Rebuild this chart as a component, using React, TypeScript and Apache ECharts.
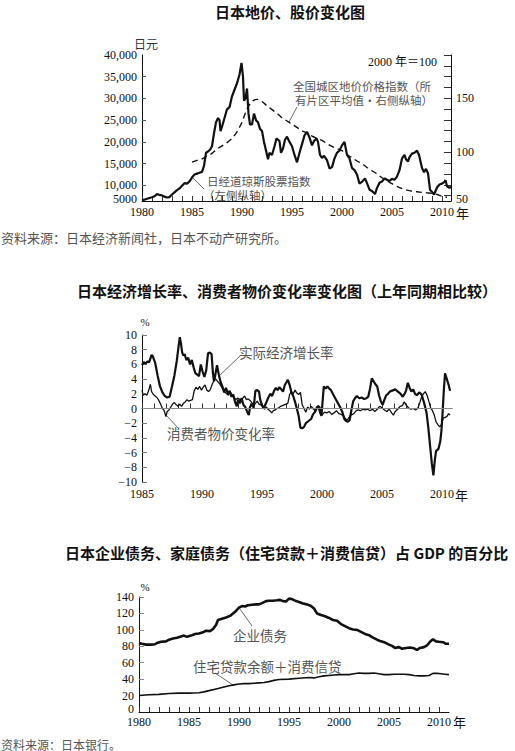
import React, { useEffect, useRef } from 'react';
import * as echarts from 'echarts';

// ---------- Chart 1: Nikkei (left axis, yen) and land price index (right axis, 2000 = 100)
const nikkei: [number, number][] = [
  [1980.0, 6600], [1980.25, 6700], [1980.5, 6900], [1980.75, 7100], [1981.0, 7250], [1981.25, 7500],
  [1981.5, 8000], [1981.75, 7800], [1982.0, 7700], [1982.25, 7400], [1982.5, 7200], [1982.75, 7300],
  [1983.0, 7900], [1983.25, 8400], [1983.5, 8900], [1983.75, 9300], [1984.0, 9900], [1984.25, 10500],
  [1984.5, 10400], [1984.75, 10900], [1985.0, 11800], [1985.25, 12500], [1985.5, 12700], [1985.75, 12900],
  [1986.0, 13100], [1986.2, 14500], [1986.4, 17500], [1986.6, 17800], [1986.8, 18200], [1987.0, 19000],
  [1987.2, 22000], [1987.4, 24500], [1987.6, 25500], [1987.75, 25000], [1987.85, 22500], [1988.0, 23500],
  [1988.25, 25500], [1988.5, 27500], [1988.75, 28000], [1989.0, 30500], [1989.25, 32000], [1989.5, 33500],
  [1989.75, 35500], [1989.95, 38200], [1990.1, 35000], [1990.2, 29500], [1990.35, 30000], [1990.5, 32300],
  [1990.65, 26500], [1990.8, 24000], [1991.0, 24000], [1991.2, 26500], [1991.4, 25000], [1991.6, 24500],
  [1991.8, 23000], [1992.0, 22500], [1992.2, 20000], [1992.4, 18000], [1992.6, 16000], [1992.75, 17500],
  [1993.0, 17000], [1993.25, 19000], [1993.45, 20800], [1993.6, 20500], [1993.75, 20200], [1993.9, 17500],
  [1994.1, 18500], [1994.3, 20500], [1994.5, 21200], [1994.75, 20000], [1995.0, 19000], [1995.25, 17000],
  [1995.5, 15300], [1995.75, 17500], [1996.0, 19500], [1996.25, 21500], [1996.5, 22300], [1996.75, 21000],
  [1997.0, 19200], [1997.2, 20200], [1997.45, 20800], [1997.6, 20000], [1997.8, 17000], [1998.0, 16300],
  [1998.2, 16800], [1998.5, 15800], [1998.75, 13900], [1999.0, 14200], [1999.25, 16200], [1999.5, 17500],
  [1999.75, 18000], [2000.0, 19200], [2000.25, 20000], [2000.5, 17000], [2000.75, 16200], [2001.0, 14000],
  [2001.25, 13500], [2001.5, 12500], [2001.75, 10400], [2002.0, 10800], [2002.3, 11600], [2002.5, 10500],
  [2002.75, 9000], [2003.0, 8700], [2003.3, 8000], [2003.5, 9400], [2003.75, 10600], [2004.0, 10900],
  [2004.25, 11600], [2004.5, 11300], [2004.75, 11000], [2005.0, 11500], [2005.25, 11300], [2005.5, 12000],
  [2005.75, 13500], [2006.0, 16200], [2006.25, 17000], [2006.4, 16000], [2006.6, 15500], [2006.75, 16500],
  [2007.0, 17300], [2007.25, 17500], [2007.5, 18000], [2007.7, 17000], [2007.85, 15500], [2008.0, 14000],
  [2008.2, 13000], [2008.4, 13800], [2008.6, 12800], [2008.8, 9000], [2009.0, 8500], [2009.2, 7900],
  [2009.5, 9500], [2009.75, 10200], [2010.0, 10400], [2010.25, 10800], [2010.35, 11200], [2010.5, 9800],
  [2010.75, 9400], [2010.9, 9700],
];

const landIndex: [number, number][] = [
  [1985.0, 91], [1985.5, 92.5], [1986.0, 94], [1986.5, 96.5], [1987.0, 99], [1987.5, 103], [1988.0, 106],
  [1988.5, 109], [1989.0, 113], [1989.5, 119], [1990.0, 128], [1990.5, 140], [1991.0, 147], [1991.5, 149],
  [1992.0, 147], [1992.5, 143], [1993.0, 139.5], [1993.5, 136], [1994.0, 132], [1994.5, 129], [1995.0, 126],
  [1995.5, 123], [1996.0, 120], [1996.5, 118], [1997.0, 115], [1997.5, 113], [1998.0, 111], [1998.5, 108],
  [1999.0, 105.5], [1999.5, 103.5], [2000.0, 101.5], [2000.5, 98], [2001.0, 95], [2001.5, 92], [2002.0, 89.5],
  [2002.5, 86], [2003.0, 83], [2003.5, 80], [2004.0, 76.5], [2004.5, 73.5], [2005.0, 71], [2005.5, 68.5],
  [2006.0, 66.5], [2006.5, 65], [2007.0, 64], [2007.5, 63.5], [2008.0, 63], [2008.5, 62.5], [2009.0, 62],
  [2009.5, 61], [2010.0, 59.5], [2010.5, 58.5],
];

const c1YearLabels = [1980, 1985, 1990, 1995, 2000, 2005, 2010];
const c1LeftLabels = [6800, 10000, 15000, 20000, 25000, 30000, 35000, 40000];
const c1LeftTicks = [10000, 15000, 20000, 25000, 30000, 35000];
const c1RightTicks = [60, 70, 80, 90, 100, 110, 120, 130, 140, 150, 160, 170, 180, 190];
const c1RightLabels = [57, 100, 150];

// ---------- Chart 2: real GDP growth and CPI change (%, y/y)
const gdpGrowth: [number, number][] = [
  [1985.0, 5.9], [1985.15, 6.3], [1985.3, 6.1], [1985.45, 6.4], [1985.6, 6.3], [1985.8, 7.3], [1985.9, 7.1],
  [1986.1, 6.2], [1986.3, 4.5], [1986.5, 3.0], [1986.7, 2.2], [1986.9, 1.7], [1987.1, 1.5], [1987.3, 1.6],
  [1987.5, 3.0], [1987.7, 4.5], [1987.9, 6.5], [1988.05, 8.5], [1988.15, 9.7], [1988.25, 8.8], [1988.35, 7.6],
  [1988.45, 7.2], [1988.55, 7.4], [1988.7, 6.6], [1988.85, 6.9], [1989.0, 6.0], [1989.15, 6.6], [1989.3, 5.6],
  [1989.45, 4.8], [1989.6, 4.6], [1989.75, 4.4], [1989.9, 6.0], [1990.05, 5.0], [1990.2, 4.3], [1990.35, 5.2],
  [1990.5, 7.5], [1990.65, 7.6], [1990.8, 7.4], [1990.9, 5.0], [1991.0, 3.7], [1991.1, 4.5], [1991.25, 5.9],
  [1991.4, 4.6], [1991.55, 3.6], [1991.7, 3.0], [1991.85, 2.2], [1992.0, 2.8], [1992.15, 2.0], [1992.3, 2.4],
  [1992.45, 1.6], [1992.6, 1.9], [1992.75, 0.9], [1992.9, 0.3], [1993.0, 1.2], [1993.15, 0.7], [1993.3, 1.4],
  [1993.45, 0.5], [1993.6, 0.2], [1993.75, -0.4], [1993.9, -0.9], [1994.0, 0.2], [1994.15, 0.6], [1994.3, 0.1],
  [1994.45, 2.4], [1994.6, 2.5], [1994.75, 2.3], [1994.85, 1.2], [1995.0, 0.4], [1995.15, 0.1], [1995.3, 0.6],
  [1995.5, 1.4], [1995.7, 2.0], [1995.85, 1.7], [1996.0, 2.4], [1996.15, 2.8], [1996.3, 2.5], [1996.45, 2.9],
  [1996.6, 2.6], [1996.75, 2.3], [1996.9, 3.2], [1997.05, 3.6], [1997.15, 3.9], [1997.3, 3.2], [1997.45, 2.2],
  [1997.6, 1.7], [1997.75, 0.9], [1997.9, 0.0], [1998.05, -1.0], [1998.2, -2.6], [1998.35, -2.7], [1998.5, -2.5],
  [1998.65, -2.0], [1998.8, -1.8], [1998.95, -1.6], [1999.1, -1.4], [1999.25, -0.8], [1999.4, -0.5],
  [1999.55, 0.0], [1999.7, 0.3], [1999.85, -0.6], [1999.95, -1.0], [2000.05, 1.0], [2000.15, 3.0],
  [2000.3, 2.7], [2000.45, 3.0], [2000.6, 2.7], [2000.75, 2.5], [2000.9, 2.0], [2001.1, 1.4], [2001.3, 0.8],
  [2001.5, 0.2], [2001.7, -0.5], [2001.85, -1.4], [2002.0, -1.7], [2002.15, -1.8], [2002.3, -1.6],
  [2002.45, -0.2], [2002.6, 1.0], [2002.75, 1.4], [2002.9, 1.7], [2003.1, 1.4], [2003.3, 1.5], [2003.5, 1.3],
  [2003.7, 1.4], [2003.85, 1.6], [2004.0, 2.7], [2004.15, 4.1], [2004.3, 3.7], [2004.45, 3.3], [2004.6, 3.0],
  [2004.75, 1.8], [2004.9, 1.0], [2005.05, 0.5], [2005.2, 1.2], [2005.35, 1.8], [2005.5, 2.0], [2005.65, 2.3],
  [2005.8, 2.4], [2005.95, 2.5], [2006.1, 2.6], [2006.25, 2.4], [2006.4, 2.2], [2006.55, 2.0], [2006.7, 1.6],
  [2006.85, 1.9], [2007.0, 2.4], [2007.15, 3.5], [2007.3, 2.8], [2007.45, 2.3], [2007.6, 2.6], [2007.75, 2.0],
  [2007.9, 1.8], [2008.1, 2.2], [2008.3, 1.9], [2008.5, 0.8], [2008.7, -0.5], [2008.85, -2.5], [2009.0, -5.0],
  [2009.15, -7.5], [2009.28, -9.1], [2009.4, -7.0], [2009.5, -5.8], [2009.7, -5.5], [2009.85, -4.5],
  [2009.95, -3.0], [2010.05, -0.5], [2010.15, 2.5], [2010.25, 4.8], [2010.4, 4.0], [2010.55, 3.2],
  [2010.67, 2.4],
];

const cpiChange: [number, number][] = [
  [1985.0, 2.5], [1985.1, 1.8], [1985.25, 2.0], [1985.4, 1.8], [1985.55, 2.4], [1985.7, 3.3], [1985.8, 2.3],
  [1985.95, 1.9], [1986.1, 1.7], [1986.25, 1.5], [1986.4, 1.1], [1986.55, 0.6], [1986.7, 0.0], [1986.85, -0.3],
  [1987.0, -1.1], [1987.1, -0.4], [1987.25, -0.2], [1987.4, 0.2], [1987.55, 0.6], [1987.7, 0.8], [1987.85, 0.5],
  [1988.0, 0.3], [1988.15, 0.6], [1988.3, 0.3], [1988.45, 0.7], [1988.6, 0.9], [1988.75, 1.2], [1988.9, 1.0],
  [1989.05, 1.1], [1989.2, 1.2], [1989.35, 2.4], [1989.5, 2.9], [1989.65, 2.6], [1989.8, 3.0], [1989.95, 2.5],
  [1990.1, 2.9], [1990.25, 3.2], [1990.4, 2.5], [1990.55, 2.3], [1990.7, 2.6], [1990.85, 3.3], [1991.0, 3.8],
  [1991.15, 4.0], [1991.3, 3.7], [1991.45, 3.4], [1991.6, 3.0], [1991.75, 2.6], [1991.9, 2.2], [1992.05, 2.0],
  [1992.2, 1.8], [1992.35, 2.3], [1992.5, 1.8], [1992.65, 1.6], [1992.8, 1.2], [1992.95, 1.4], [1993.1, 1.3],
  [1993.25, 1.0], [1993.4, 1.4], [1993.55, 1.7], [1993.7, 1.2], [1993.85, 1.3], [1994.0, 1.1], [1994.15, 0.8],
  [1994.3, 0.4], [1994.45, 0.7], [1994.6, 1.0], [1994.75, 0.6], [1994.9, 0.5], [1995.05, 0.3], [1995.2, -0.1],
  [1995.35, 0.2], [1995.5, -0.1], [1995.65, -0.3], [1995.8, -0.6], [1995.95, -0.3], [1996.1, -0.2],
  [1996.25, 0.0], [1996.4, 0.1], [1996.55, 0.3], [1996.7, 0.4], [1996.85, 0.5], [1997.0, 0.6], [1997.15, 0.7],
  [1997.3, 1.9], [1997.45, 2.3], [1997.6, 2.0], [1997.75, 2.5], [1997.9, 2.1], [1998.05, 1.9], [1998.2, 2.2],
  [1998.35, 0.5], [1998.5, 0.0], [1998.65, -0.5], [1998.8, 0.2], [1998.95, -0.1], [1999.1, 0.3],
  [1999.25, 0.0], [1999.4, -0.3], [1999.55, 0.2], [1999.7, 0.4], [1999.85, 0.1], [2000.0, -0.9],
  [2000.2, -0.5], [2000.4, -0.6], [2000.6, -0.4], [2000.8, -0.8], [2001.0, -0.6], [2001.2, -0.3],
  [2001.4, -0.7], [2001.6, -0.8], [2001.8, -1.0], [2001.95, -1.4], [2002.1, -1.6], [2002.25, -1.2],
  [2002.4, -0.9], [2002.55, -0.8], [2002.7, -0.6], [2002.85, -0.3], [2003.0, -0.2], [2003.2, -0.3],
  [2003.4, -0.1], [2003.6, -0.2], [2003.8, -0.1], [2004.0, -0.3], [2004.2, -0.1], [2004.4, -0.4],
  [2004.6, -0.1], [2004.8, 0.3], [2005.0, 0.1], [2005.2, -0.2], [2005.4, -0.4], [2005.6, -0.1],
  [2005.8, -0.6], [2005.95, -0.9], [2006.1, -0.4], [2006.3, -0.1], [2006.5, 0.3], [2006.7, 0.4],
  [2006.85, 0.9], [2007.0, 0.5], [2007.2, 0.1], [2007.4, -0.1], [2007.6, 0.0], [2007.8, -0.2], [2008.0, 0.1],
  [2008.15, 0.8], [2008.3, 1.6], [2008.45, 2.0], [2008.6, 2.3], [2008.75, 1.8], [2008.9, 1.0], [2009.05, 0.1],
  [2009.2, -0.3], [2009.35, -0.9], [2009.5, -1.8], [2009.65, -2.2], [2009.8, -2.5], [2009.95, -2.2],
  [2010.1, -1.3], [2010.25, -1.2], [2010.4, -1.1], [2010.55, -0.7], [2010.67, -0.9],
];

const c2YearLabels = [1985, 1990, 1995, 2000, 2005, 2010];
const c2ValueLabels = [-10, -8, -6, -4, -2, 0, 2, 4, 6, 8, 10];

// ---------- Chart 3: corporate debt and household debt, % of GDP
const corporateDebt: [number, number][] = [
  [1980.0, 84], [1980.3, 83], [1980.7, 82], [1981.2, 82], [1981.6, 82.5], [1981.8, 84], [1982.2, 85.5],
  [1982.7, 86], [1983.0, 88], [1983.4, 89.5], [1983.8, 90.5], [1984.2, 92], [1984.5, 93], [1984.8, 91.5],
  [1985.2, 93], [1985.6, 95], [1986.0, 95.5], [1986.4, 97], [1986.7, 99], [1987.1, 98.5], [1987.4, 101],
  [1987.7, 106], [1987.9, 112], [1988.3, 113.5], [1988.7, 115], [1989.1, 117], [1989.4, 120], [1989.7, 123],
  [1990.0, 127], [1990.3, 129], [1990.6, 128.5], [1990.9, 130], [1991.3, 130.5], [1991.7, 131], [1992.0, 131],
  [1992.3, 132.5], [1992.7, 135], [1993.0, 135.5], [1993.4, 135.5], [1993.8, 136], [1994.1, 136.5],
  [1994.4, 135], [1994.7, 134.5], [1995.0, 138], [1995.3, 137.5], [1995.7, 135], [1996.0, 134], [1996.4, 132],
  [1996.8, 131], [1997.2, 129], [1997.5, 126], [1997.8, 120], [1998.2, 118], [1998.6, 116.5], [1999.0, 114.5],
  [1999.4, 112], [1999.8, 111], [2000.2, 107], [2000.6, 104.5], [2001.0, 102], [2001.4, 100.5], [2001.8, 100],
  [2002.2, 97.5], [2002.6, 95], [2003.0, 93.5], [2003.4, 90.5], [2003.8, 88], [2004.2, 86], [2004.6, 84.5],
  [2005.0, 82], [2005.3, 80.5], [2005.6, 78], [2006.0, 79], [2006.3, 77], [2006.7, 78], [2007.1, 78.5],
  [2007.5, 77.5], [2007.8, 75.5], [2008.1, 78], [2008.5, 79], [2008.8, 81], [2009.1, 85.5], [2009.4, 88.5],
  [2009.7, 86], [2010.0, 85.5], [2010.4, 85], [2010.7, 83], [2011.0, 83],
];

const householdDebt: [number, number][] = [
  [1980.0, 20], [1981.0, 21], [1982.0, 21.5], [1983.0, 22.5], [1984.0, 23], [1985.0, 23], [1986.0, 23.5],
  [1986.5, 24.5], [1987.0, 26], [1987.5, 27.5], [1988.0, 29], [1988.5, 30.5], [1989.0, 32], [1989.5, 33],
  [1990.0, 34], [1990.5, 34.5], [1991.0, 34.5], [1991.5, 35], [1992.0, 35.5], [1992.5, 36], [1993.0, 37],
  [1993.5, 38.5], [1994.0, 39.5], [1995.0, 40], [1996.0, 41], [1997.0, 42], [1997.5, 41.5], [1998.0, 43],
  [1998.5, 44], [1999.0, 44.5], [1999.5, 45], [2000.0, 45.5], [2001.0, 45.5], [2001.5, 46.5], [2002.0, 47.5],
  [2002.5, 47], [2003.0, 47], [2003.5, 47.5], [2004.0, 46.5], [2004.5, 45.5], [2005.0, 45.5], [2005.5, 46],
  [2006.0, 46], [2006.5, 46], [2007.0, 45.5], [2007.5, 44.5], [2008.0, 44], [2008.5, 44], [2009.0, 44.5],
  [2009.4, 47], [2009.8, 47], [2010.2, 46.5], [2010.6, 46], [2011.0, 45.5],
];

const c3YearLabels = [1980, 1985, 1990, 1995, 2000, 2005, 2010];
const c3ValueLabels = [4, 20, 40, 60, 80, 100, 120, 140];
const c3ValueTicks = [20, 40, 60, 80, 100, 120, 140];

const yearTicks80: number[] = [];
for (let y = 1980; y <= 2010; y++) yearTicks80.push(y);
const yearTicks85: number[] = [];
for (let y = 1985; y <= 2010; y++) yearTicks85.push(y);

const SERIF = '"Liberation Serif", "DejaVu Serif", "Noto Sans CJK SC", serif';
const CJK = '"Noto Sans CJK SC", sans-serif';
const INK = '#111';
const NOTE = '#555';

function txt(text: string, x: number, y: number, size: number, opts: any = {}) {
  const align = opts.align || 'left';
  return {
    type: 'text',
    x,
    y,
    silent: true,
    style: {
      text,
      fill: opts.fill || INK,
      font: `${opts.weight || 'normal'} ${size}px ${opts.family || CJK}`,
      align,
      textAlign: align,
      verticalAlign: 'middle',
      textVerticalAlign: 'middle',
    },
  };
}

function leader(x1: number, y1: number, x2: number, y2: number) {
  return {
    type: 'line',
    silent: true,
    shape: { x1, y1, x2, y2 },
    style: { stroke: '#444', lineWidth: 0.8 },
  };
}

const axisLineStyle = { show: true, lineStyle: { color: INK, width: 1 } };
const numLabel = { color: INK, fontFamily: SERIF, fontSize: 12 };

function yearAxis(gridIndex: number, min: number, max: number, labels: number[], ticks: number[], margin: number) {
  return {
    type: 'value',
    gridIndex,
    min,
    max,
    axisLine: axisLineStyle,
    axisTick: { show: true, inside: true, length: 5, customValues: ticks, lineStyle: { color: '#333', width: 1 } },
    axisLabel: { ...numLabel, margin, customValues: labels, formatter: (v: number) => String(Math.round(v)) },
    splitLine: { show: false },
  };
}

const minusFmt = (v: number) => (v < 0 ? '\u2212' + Math.abs(v) : String(v));

const option: any = {
  animation: false,
  backgroundColor: '#fff',
  grid: [
    { left: 142, top: 55, width: 309, height: 146 },
    { left: 142, top: 335, width: 310, height: 147 },
    { left: 139, top: 597, width: 310, height: 115 },
  ],
  xAxis: [
    yearAxis(0, 1980, 2010.9, c1YearLabels, yearTicks80, 5),
    yearAxis(1, 1985, 2010.83, c2YearLabels, yearTicks85, 6),
    yearAxis(2, 1980, 2011, c3YearLabels, yearTicks80, 4),
  ],
  yAxis: [
    {
      type: 'value',
      gridIndex: 0,
      position: 'left',
      min: 6400,
      max: 40000,
      axisLine: axisLineStyle,
      axisTick: { show: true, inside: true, length: 4, customValues: c1LeftTicks, lineStyle: { color: '#555' } },
      axisLabel: {
        ...numLabel,
        margin: 5,
        customValues: c1LeftLabels,
        formatter: (v: number) => (v === 6800 ? '5000' : v.toLocaleString('en-US')),
      },
      splitLine: { show: false },
    },
    {
      type: 'value',
      gridIndex: 0,
      position: 'right',
      min: 55,
      max: 190,
      axisLine: axisLineStyle,
      axisTick: { show: true, inside: true, length: 7, customValues: c1RightTicks, lineStyle: { color: '#333' } },
      axisLabel: {
        ...numLabel,
        margin: 5,
        customValues: c1RightLabels,
        formatter: (v: number) => (v === 57 ? '50' : String(v)),
      },
      splitLine: { show: false },
    },
    {
      type: 'value',
      gridIndex: 1,
      min: -10,
      max: 10,
      axisLine: axisLineStyle,
      axisTick: { show: true, inside: true, length: 5, customValues: c2ValueLabels, lineStyle: { color: '#777' } },
      axisLabel: { ...numLabel, margin: 5, customValues: c2ValueLabels, formatter: minusFmt },
      splitLine: { show: false },
    },
    {
      type: 'value',
      gridIndex: 2,
      min: 0,
      max: 140,
      axisLine: axisLineStyle,
      axisTick: { show: true, inside: true, length: 5, customValues: c3ValueTicks, lineStyle: { color: '#888' } },
      axisLabel: {
        ...numLabel,
        margin: 5,
        customValues: c3ValueLabels,
        formatter: (v: number) => (v === 4 ? '0' : String(v)),
      },
      splitLine: { show: false },
    },
  ],
  series: [
    {
      type: 'line', name: '日经道琼斯股票指数', xAxisIndex: 0, yAxisIndex: 0, data: nikkei,
      symbol: 'none', lineStyle: { color: INK, width: 2.2 }, silent: true,
    },
    {
      type: 'line', name: '全国城区地价价格指数', xAxisIndex: 0, yAxisIndex: 1, data: landIndex, smooth: 0.3,
      symbol: 'none', lineStyle: { color: INK, width: 1.4, type: [6, 4] }, silent: true,
    },
    {
      type: 'line', name: '实际经济增长率', xAxisIndex: 1, yAxisIndex: 2, data: gdpGrowth,
      symbol: 'none', lineStyle: { color: INK, width: 2.2 }, silent: true,
      markLine: {
        silent: true, symbol: 'none', label: { show: false },
        lineStyle: { color: '#888', width: 1, type: 'solid' },
        data: [{ yAxis: 0 }],
      },
    },
    {
      type: 'line', name: '消费者物价变化率', xAxisIndex: 1, yAxisIndex: 2, data: cpiChange,
      symbol: 'none', lineStyle: { color: INK, width: 1.3 }, silent: true,
    },
    {
      type: 'line', name: '企业债务', xAxisIndex: 2, yAxisIndex: 3, data: corporateDebt,
      symbol: 'none', lineStyle: { color: INK, width: 2.6 }, silent: true,
    },
    {
      type: 'line', name: '住宅贷款余额＋消费信贷', xAxisIndex: 2, yAxisIndex: 3, data: householdDebt,
      symbol: 'none', lineStyle: { color: INK, width: 1.6 }, silent: true,
    },
  ],
  graphic: [
    // Chart 1
    txt('日本地价、股价变化图', 215, 11, 15, { weight: 'bold' }),
    txt('日元', 134, 43, 12, { fill: '#333' }),
    txt('2000 年＝100', 437, 62, 12, { align: 'right', family: SERIF }),
    txt('全国城区地价价格指数（所', 293, 85.5, 11.5, { fill: NOTE }),
    txt('有片区平均值·右侧纵轴）', 295, 100, 11.5, { fill: NOTE }),
    leader(297, 107, 289, 122),
    txt('日经道琼斯股票指数', 207, 180.5, 11.5, { fill: NOTE }),
    txt('（左侧纵轴）', 203, 195, 11.5, { fill: NOTE }),
    leader(193, 178, 204, 189),
    txt('年', 456, 213, 13, { family: SERIF }),
    txt('资料来源：日本经济新闻社，日本不动产研究所。', 1, 237, 13, { fill: NOTE }),
    // Chart 2
    txt('日本经济增长率、消费者物价变化率变化图（上年同期相比较）', 77, 290, 15, { weight: 'bold' }),
    txt('%', 145, 322, 11, { align: 'center', family: SERIF }),
    txt('实际经济增长率', 239, 352, 13.5, { fill: NOTE }),
    leader(240, 356, 219, 376),
    txt('消费者物价变化率', 167, 433, 13.5, { fill: NOTE }),
    leader(167, 416, 179, 429),
    txt('年', 455, 495, 13, { family: SERIF }),
    // Chart 3
    txt('日本企业债务、家庭债务（住宅贷款＋消费信贷）占 GDP 的百分比', 65, 552, 15, { weight: 'bold' }),
    txt('%', 145, 587, 11, { align: 'center', family: SERIF }),
    txt('企业债务', 233, 635, 13.5, { fill: NOTE }),
    leader(240, 609, 252, 626),
    txt('住宅贷款余额＋消费信贷', 193, 666, 13.5, { fill: NOTE }),
    leader(215, 673, 233, 685),
    txt('年', 453, 722, 13, { family: SERIF }),
    txt('资料来源：日本银行。', 1, 744, 12, { fill: NOTE }),
  ],
};

export default function App() {
  const ref = useRef<HTMLDivElement>(null);
  useEffect(() => {
    if (!ref.current) return;
    const chart = echarts.init(ref.current, null, { renderer: 'svg' });
    chart.setOption(option);
    return () => chart.dispose();
  }, []);
  return (
    <div
      ref={ref}
      style={{ position: 'fixed', left: 0, top: 0, width: 515, height: 751, background: '#fff' }}
    />
  );
}
